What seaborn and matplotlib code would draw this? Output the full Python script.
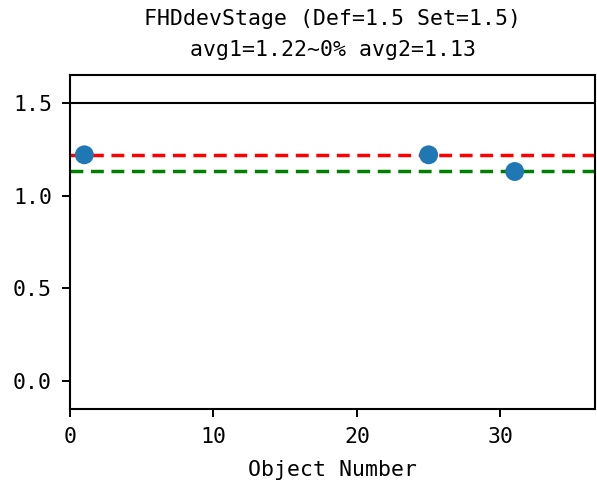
import matplotlib
matplotlib.use("Agg")
import matplotlib.pyplot as plt
import seaborn as sns
import pandas as pd

object_number = [1, 25, 31]
stage_values = [1.22, 1.22, 1.13]
def_value = 1.5
avg1 = 1.22
avg2 = 1.13
title_text = "FHDdevStage (Def=1.5 Set=1.5)\navg1=1.22~0% avg2=1.13"

sns.set_style("ticks")
plt.rcParams['font.family'] = ['DejaVu Sans Mono', 'DejaVu Sans']
plt.rcParams['axes.unicode_minus'] = False
plt.rcParams['text.color'] = 'black'
plt.rcParams['axes.labelcolor'] = 'black'

df = pd.DataFrame({"Object Number": object_number, "value": stage_values})

fig = plt.figure(figsize=(5.97, 4.84), dpi=100)
ax = fig.add_axes([0.1173, 0.155, 0.8794, 0.690])

ax.axhline(def_value, color="black", lw=1.5)
ax.axhline(avg1, color="red", lw=2.5, ls=(0, (3.7, 2.2)))
ax.axhline(avg2, color="green", lw=2.5, ls=(0, (3.7, 2.2)))
sns.scatterplot(data=df, x="Object Number", y="value", ax=ax, s=185,
                color="#1f77b4", edgecolor="none", zorder=3)

ax.set_xlim(0, 36.6)
ax.set_ylim(-0.15, 1.65)
ax.set_xticks([0, 10, 20, 30])
ax.set_yticks([0.0, 0.5, 1.0, 1.5])
ax.set_xlabel("Object Number", fontsize=15.5, labelpad=9, color="black")
ax.set_ylabel("")
ax.set_title(title_text, fontsize=15.5, linespacing=1.65, pad=14, color="black")
ax.tick_params(labelsize=15.5, width=1.4, length=6, colors="black", pad=7)
for s in ax.spines.values():
    s.set_linewidth(1.5)
    s.set_color("black")

fig.savefig("out.png", dpi=100)
